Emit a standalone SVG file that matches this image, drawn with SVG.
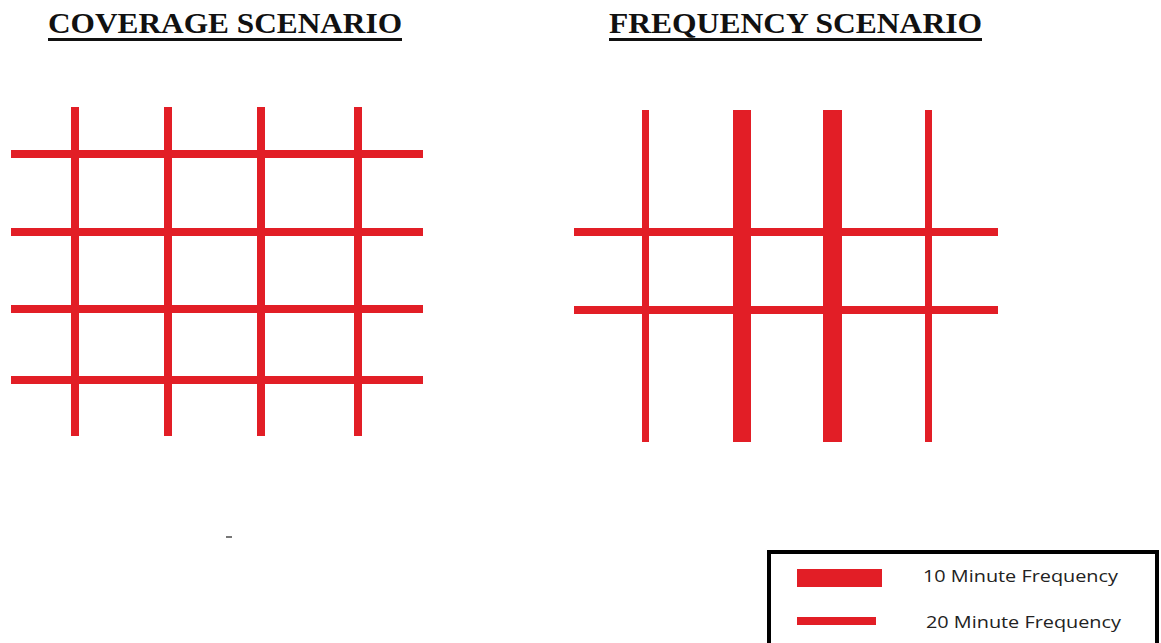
<svg xmlns="http://www.w3.org/2000/svg" width="1161" height="643" viewBox="0 0 1161 643">
<style>
.title{font-family:"Liberation Serif","Times New Roman",serif;font-weight:bold;font-size:30px;fill:#111;}
.leg{font-family:"Open Sans","Liberation Sans",sans-serif;font-size:17px;fill:#222;}
.r{fill:#e21e26;}
</style>
<rect width="1161" height="643" fill="#fff"/>
<g id="title-coverage">
<text class="title" x="48" y="33" textLength="354" lengthAdjust="spacingAndGlyphs">COVERAGE SCENARIO</text>
<rect x="48" y="38" width="354" height="3" fill="#111"/>
</g>
<g id="title-frequency">
<text class="title" x="609" y="33" textLength="373" lengthAdjust="spacingAndGlyphs">FREQUENCY SCENARIO</text>
<rect x="609" y="38" width="373" height="3" fill="#111"/>
</g>
<g id="coverage-grid">
<rect class="r" x="71" y="107" width="8" height="329"/>
<rect class="r" x="164" y="107" width="8" height="329"/>
<rect class="r" x="257" y="107" width="8" height="329"/>
<rect class="r" x="354" y="107" width="8" height="329"/>
<rect class="r" x="11" y="150" width="412" height="8"/>
<rect class="r" x="11" y="228" width="412" height="8"/>
<rect class="r" x="11" y="305" width="412" height="8"/>
<rect class="r" x="11" y="376" width="412" height="8"/>
</g>
<g id="frequency-grid">
<rect class="r" x="642" y="110" width="7" height="332"/>
<rect class="r" x="733" y="110" width="18" height="332"/>
<rect class="r" x="823" y="110" width="19" height="332"/>
<rect class="r" x="925" y="110" width="7" height="332"/>
<rect class="r" x="574" y="228" width="424" height="8"/>
<rect class="r" x="574" y="306" width="424" height="8"/>
</g>
<rect x="226" y="536" width="6" height="2" fill="#777"/>
<g id="legend">
<rect x="769" y="552" width="388" height="100" fill="#fff" stroke="#000" stroke-width="4"/>
<rect class="r" x="797" y="569" width="85" height="18"/>
<rect class="r" x="797" y="617" width="79" height="8"/>
<text class="leg" x="923" y="582" textLength="195" lengthAdjust="spacingAndGlyphs">10 Minute Frequency</text>
<text class="leg" x="926" y="628" textLength="195" lengthAdjust="spacingAndGlyphs">20 Minute Frequency</text>
</g>
</svg>
